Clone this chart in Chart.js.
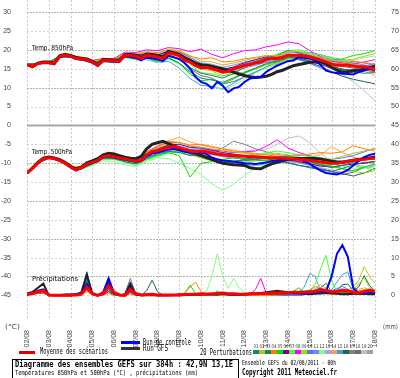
<!DOCTYPE html>
<html>
<head>
<meta charset="utf-8">
<script src="https://cdn.jsdelivr.net/npm/chart.js@4.4.0/dist/chart.umd.min.js"></script>
<style>
html, body { margin: 0; padding: 0; background: #fff; }
</style>
</head>
<body>
<canvas id="gefs" width="400" height="378"></canvas>
<script>
// Echeances : 00h le 02/08 -> 384h, tous les 6h (runs principaux) ou 12h (perturbations)
const dayLabels = ['02/08','03/08','04/08','05/08','06/08','07/08','08/08','09/08','10/08',
                   '11/08','12/08','13/08','14/08','15/08','16/08','17/08','18/08'];
const leftTicks = [-45,-40,-35,-30,-25,-20,-15,-10,-5,0,5,10,15,20,25,30];
const rightTicks = [0,5,10,15,20,25,30,35,40,45,50,55,60,65,70,75];

// Temperature 850hPa, pas de 6h
const t850Mean = [16.1,15.5,16.4,16.6,16.6,16.3,18.2,18.6,18.3,17.8,17.6,17.4,16.8,15.9,17.3,17.2,17.1,17.0,18.6,18.6,18.3,17.7,18.6,18.4,18.1,17.7,19.2,18.9,18.5,17.2,16.8,15.8,15.2,15.4,15.0,14.6,14.1,14.3,15.0,15.4,15.9,16.1,16.6,16.8,17.5,17.7,17.7,18.0,18.6,18.6,18.6,18.4,18.1,17.7,17.3,16.8,16.3,15.9,15.9,15.9,15.7,15.5,15.5,15.2,15.0];
const t850Ctrl = [16.1,15.5,16.3,16.6,16.5,16.2,18.0,18.4,18.2,17.6,17.4,17.2,16.6,15.7,17.0,17.0,16.9,16.8,18.4,18.2,17.9,17.2,18.0,17.8,17.5,17.0,18.4,18.0,17.6,16.5,15.0,12.8,11.5,11.0,9.8,11.5,10.5,8.8,9.8,10.2,11.5,12.4,12.6,12.8,14.2,15.0,15.8,16.4,17.0,17.2,18.1,17.9,17.7,17.2,16.0,14.5,14.1,13.9,13.7,13.6,13.5,14.1,14.5,15.0,15.2];
const t850Gfs = [16.1,15.6,16.5,16.8,16.8,16.5,18.4,18.8,18.5,18.0,17.8,17.6,17.0,16.1,17.5,17.4,17.3,17.2,18.8,18.8,18.6,18.0,18.9,18.8,18.5,18.1,19.6,19.2,18.8,17.8,17.2,16.4,16.0,15.9,15.6,15.3,15.0,14.5,14.1,13.6,13.2,12.9,12.7,12.8,13.0,13.5,14.2,14.6,15.2,15.8,16.1,16.4,16.7,16.8,16.8,16.3,15.4,14.6,14.1,14.2,14.5,14.6,14.9,15.3,15.7];

// Temperature 500hPa, pas de 6h
const t500Mean = [-12.6,-11.4,-10.0,-8.9,-8.6,-8.8,-9.3,-10.0,-11.0,-11.8,-11.2,-10.2,-9.8,-9.3,-8.3,-8.0,-8.3,-8.6,-8.9,-9.2,-9.4,-9.3,-7.8,-6.9,-6.7,-6.2,-5.8,-5.6,-5.9,-6.4,-6.8,-7.0,-6.8,-7.0,-7.3,-7.6,-7.8,-8.0,-8.0,-8.1,-8.2,-8.3,-8.3,-8.4,-8.5,-8.6,-8.6,-8.7,-8.8,-8.9,-9.0,-9.1,-9.3,-9.5,-9.7,-9.9,-10.0,-10.0,-9.8,-9.5,-9.3,-9.1,-9.0,-8.8,-8.7];
const t500Ctrl = [-12.6,-11.4,-10.0,-8.9,-8.6,-8.8,-9.4,-10.1,-11.1,-11.9,-11.4,-10.4,-10.0,-9.5,-8.5,-8.2,-8.5,-8.8,-9.1,-9.4,-9.6,-9.5,-8.2,-7.4,-7.2,-6.8,-6.4,-6.2,-6.6,-7.0,-7.2,-7.4,-7.2,-7.6,-8.5,-9.0,-9.3,-9.4,-9.6,-9.8,-10.0,-10.1,-10.2,-10.0,-9.8,-9.5,-9.3,-9.1,-9.0,-8.9,-8.8,-9.5,-10.2,-11.1,-12.0,-12.6,-12.8,-13.0,-12.5,-11.8,-10.6,-9.4,-8.4,-7.8,-7.5];
const t500Gfs = [-12.6,-11.3,-9.8,-8.7,-8.4,-8.6,-9.1,-9.8,-10.8,-11.6,-11.0,-9.9,-9.4,-8.8,-7.8,-7.4,-7.6,-8.0,-8.4,-8.7,-8.8,-8.2,-6.2,-5.0,-4.6,-4.2,-4.8,-5.4,-6.0,-6.6,-7.0,-7.4,-7.9,-8.5,-9.0,-9.6,-10.0,-10.2,-10.4,-10.5,-10.6,-11.2,-11.4,-11.5,-10.8,-10.2,-9.8,-9.4,-9.0,-8.9,-8.8,-8.8,-8.8,-8.8,-8.9,-9.2,-9.5,-9.7,-9.7,-9.5,-9.2,-9.0,-8.8,-8.6,-8.4];

// Precipitations (mm), pas de 6h
const rrMean = [0.2,0.5,0.9,1.3,0.1,0.0,0.0,0.0,0.0,0.1,0.3,2.2,0.5,0.0,0.5,2.5,0.8,0.1,0.0,1.6,0.5,0.1,0.2,0.3,0.1,0.1,0.1,0.1,0.1,0.2,0.3,0.3,0.4,0.3,0.4,0.5,0.6,0.4,0.4,0.3,0.3,0.4,0.4,0.5,0.5,0.6,0.6,0.7,0.7,0.8,0.8,0.9,0.9,1.0,1.5,1.3,0.9,1.1,1.3,1.2,0.8,0.6,1.0,1.4,1.0];
const rrCtrl = [0.3,0.6,1.2,1.6,0.1,0,0,0,0,0.2,0.6,3.0,0.4,0,0.8,4.5,0.6,0,0.1,2.0,0.3,0,0.1,0.2,0,0,0,0.1,0.2,0.2,0.1,0.2,0.3,0.4,0.3,0.2,0.4,0.3,0.2,0.2,0.3,0.4,0.4,0.5,0.4,0.5,0.6,0.5,0.6,0.5,0.6,0.6,0.5,0.8,1.0,1.2,4.9,11.0,13.3,10.2,2.0,0.5,0.6,0.8,0.6];
const rrGfs = [0.5,0.9,2.0,3.1,0,0,0,0,0,0.2,0.8,5.5,0.5,0,0.6,3.2,0.5,0,0.1,3.0,0.3,0,0,0.1,0,0,0,0,0,0.1,0.1,0.2,0.2,0.2,0.3,0.3,0.4,0.3,0.3,0.2,0.3,0.4,0.5,0.6,0.8,1.0,1.2,1.0,0.8,0.6,0.5,0.4,0.3,0.4,0.5,0.6,0.5,0.4,0.3,0.3,0.4,0.5,0.4,0.3,0.3];

// 20 perturbations, 850hPa, pas de 12h
const t850_p01 = [16.1,16.5,16.7,18.3,18.6,17.8,16.6,17.0,16.8,18.2,17.6,17.8,16.9,17.8,16.5,14.2,12.5,12.0,11.4,12.6,14.0,15.2,16.4,17.0,18.0,17.6,17.0,16.5,15.4,15.0,14.2,13.8,14.0];
const t850_p02 = [16.1,16.3,16.5,18.1,18.2,17.5,16.9,17.5,17.4,19.0,18.9,19.3,19.0,20.2,19.8,18.5,17.0,16.8,16.0,16.5,17.2,17.8,18.4,18.5,19.5,19.6,18.8,18.0,17.3,17.2,17.5,18.3,19.0];
const t850_p03 = [16.1,16.4,16.6,18.0,18.1,17.4,16.5,17.1,16.6,18.0,17.9,18.0,17.2,18.6,17.5,15.3,13.8,13.2,12.5,13.8,15.3,16.8,17.9,18.6,19.8,19.2,18.5,17.2,16.0,14.6,13.9,14.5,15.8];
const t850_p04 = [16.1,16.4,16.7,18.4,18.5,17.9,17.1,17.6,17.5,19.2,19.0,19.5,19.3,20.0,19.6,18.3,17.6,17.9,16.8,17.0,17.6,18.0,18.5,18.2,18.8,18.4,17.6,16.8,16.1,16.5,17.0,16.6,16.2];
const t850_p05 = [16.1,16.4,16.5,18.2,18.3,17.5,16.6,17.2,17.0,18.7,18.2,18.4,17.6,18.0,16.5,13.6,11.8,12.2,11.0,12.3,13.8,15.0,16.2,16.8,18.2,18.8,18.3,17.9,17.2,17.6,18.5,19.0,19.8];
const t850_p06 = [16.1,16.4,16.6,18.3,18.4,17.7,17.0,17.4,17.3,18.9,18.6,19.0,18.6,19.6,19.0,17.5,16.0,15.2,14.6,15.5,16.6,17.4,18.2,18.0,18.4,17.9,17.0,16.2,15.1,14.8,14.6,14.9,14.5];
const t850_p07 = [16.1,16.4,16.6,18.1,18.2,17.4,16.5,17.0,16.9,18.6,18.4,18.9,18.5,19.4,18.6,16.1,14.0,13.6,13.0,14.2,15.5,16.6,17.6,18.9,19.8,20.0,19.2,18.6,18.0,17.1,16.2,15.6,15.2];
const t850_p08 = [16.1,16.5,16.7,18.3,18.5,17.9,17.2,17.7,17.7,19.4,19.3,20.0,19.8,20.6,20.3,19.5,20.2,18.8,17.9,19.0,19.8,20.0,20.8,21.3,22.1,21.6,19.8,18.2,17.0,16.6,16.3,16.8,17.4];
const t850_p09 = [16.1,16.3,16.5,18.1,18.1,17.4,16.6,17.1,16.9,18.3,17.9,18.1,17.6,18.9,18.2,16.4,15.0,14.4,13.2,13.5,14.2,15.0,16.0,16.4,17.5,17.9,17.8,17.5,17.0,16.4,16.0,15.2,14.6];
const t850_p10 = [16.1,16.4,16.6,18.2,18.4,17.7,16.9,17.4,17.2,18.8,18.5,18.8,18.3,19.5,18.9,17.4,15.8,15.9,14.9,15.2,16.3,16.9,17.8,17.4,18.0,17.5,16.4,15.2,13.9,14.2,14.8,15.6,16.4];
const t850_p11 = [16.1,16.4,16.6,18.2,18.3,17.6,16.7,17.2,17.0,18.4,18.0,18.3,17.8,19.0,18.4,17.0,15.5,15.0,13.9,14.4,15.2,15.9,16.8,17.3,18.4,18.9,18.6,18.0,17.4,16.9,16.6,16.0,15.6];
const t850_p12 = [16.1,16.4,16.5,18.1,18.2,17.4,16.4,16.9,16.5,17.9,17.3,17.4,16.6,17.5,16.2,13.9,11.6,10.5,9.4,10.6,12.2,13.8,15.2,16.4,17.6,18.2,17.9,17.4,16.8,16.9,17.2,17.9,18.4];
const t850_p13 = [16.1,16.4,16.6,18.2,18.4,17.8,17.0,17.5,17.4,18.9,18.7,19.1,18.8,19.9,19.2,17.9,16.6,16.2,15.4,16.0,16.8,17.3,18.0,18.3,19.2,19.4,19.0,18.4,17.6,17.0,16.3,15.8,15.4];
const t850_p14 = [16.1,16.4,16.6,18.2,18.3,17.6,16.8,17.3,17.2,18.8,18.6,18.9,18.4,19.4,18.7,17.1,15.4,15.2,14.4,15.0,15.6,16.0,16.8,17.1,18.0,18.2,17.9,17.4,17.1,16.3,15.4,14.3,13.3];
const t850_p15 = [16.1,16.5,16.7,18.3,18.4,17.6,16.6,17.0,16.7,18.1,17.5,17.4,16.6,17.0,15.2,12.4,10.6,10.3,9.6,11.2,12.8,14.2,15.4,16.2,17.2,17.6,17.5,17.0,16.6,16.2,15.6,15.0,14.8];
const t850_p16 = [16.1,16.4,16.6,18.2,18.3,17.7,16.9,17.5,17.3,18.9,18.6,19.0,18.6,19.8,19.4,18.0,16.4,16.0,15.0,15.3,15.8,16.0,16.8,17.0,17.8,17.4,16.6,15.6,14.2,13.0,12.2,11.6,11.0];
const t850_p17 = [16.1,16.4,16.6,18.2,18.3,17.6,16.9,17.4,17.3,18.8,18.4,18.8,18.4,19.5,18.8,17.2,15.6,14.9,14.2,15.2,16.2,17.0,18.0,18.5,19.2,19.4,19.3,18.7,17.9,17.4,17.0,16.5,16.0];
const t850_p18 = [16.1,16.3,16.5,18.1,18.2,17.5,16.7,17.2,17.0,18.5,18.1,18.4,17.9,18.8,17.6,15.0,13.2,12.5,11.0,11.6,12.8,14.0,15.5,16.7,17.8,18.0,17.6,17.0,16.2,15.6,15.2,14.6,14.2];
const t850_p19 = [16.1,16.4,16.6,18.3,18.4,17.7,16.8,17.4,17.2,18.7,18.5,18.9,18.5,19.6,19.0,17.6,16.2,16.1,15.3,16.0,16.6,17.1,17.8,18.0,18.6,18.3,17.8,17.1,15.6,13.5,11.6,9.2,6.5];
const t850_p20 = [16.1,16.4,16.6,18.2,18.3,17.6,16.8,17.3,17.1,18.6,18.2,18.6,18.2,19.3,18.6,17.0,15.3,14.8,14.0,14.9,15.6,16.2,17.1,17.6,18.5,18.9,18.4,17.9,17.2,16.5,16.0,15.2,14.5];

// 20 perturbations, 500hPa, pas de 12h
const t500_p01 = [-12.6,-10.0,-8.7,-9.2,-11.2,-11.5,-10.2,-8.6,-8.8,-9.6,-10.2,-8.8,-7.5,-6.9,-7.2,-8.0,-7.8,-8.5,-9.2,-9.6,-9.4,-9.0,-8.6,-8.4,-8.2,-8.8,-9.6,-10.4,-11.2,-10.6,-9.8,-9.2,-8.5];
const t500_p02 = [-12.6,-10.0,-8.5,-9.4,-10.8,-11.0,-9.6,-8.0,-8.0,-8.4,-8.8,-7.2,-6.0,-4.8,-4.6,-5.5,-5.8,-6.2,-6.6,-7.0,-7.4,-7.8,-7.6,-7.4,-7.8,-8.4,-8.8,-8.6,-9.0,-8.2,-7.4,-6.8,-6.2];
const t500_p03 = [-12.6,-10.1,-8.6,-9.2,-11.0,-11.4,-10.0,-8.6,-8.5,-9.2,-9.8,-8.3,-6.8,-5.5,-6.0,-7.5,-8.4,-9.2,-9.8,-9.6,-9.0,-8.5,-8.8,-9.4,-10.0,-10.6,-11.2,-11.8,-12.2,-11.4,-10.4,-9.8,-9.6];
const t500_p04 = [-12.6,-9.9,-8.5,-9.3,-10.9,-11.0,-9.5,-8.0,-7.9,-8.5,-9.0,-7.0,-5.8,-4.2,-4.5,-5.2,-5.0,-5.6,-6.2,-6.8,-7.2,-7.6,-7.8,-8.2,-8.4,-8.0,-7.6,-7.2,-7.4,-7.0,-5.4,-6.2,-6.8];
const t500_p05 = [-12.6,-10.0,-8.6,-9.4,-11.1,-11.3,-9.9,-8.5,-8.6,-9.3,-9.8,-8.6,-7.8,-7.2,-8.0,-13.7,-10.0,-9.6,-9.0,-8.6,-8.8,-9.2,-9.4,-9.0,-8.8,-9.2,-9.8,-10.4,-10.8,-11.4,-12.0,-11.0,-10.2];
const t500_p06 = [-12.6,-10.0,-8.6,-9.3,-11.0,-11.2,-9.8,-8.2,-8.1,-8.6,-9.0,-7.4,-6.2,-5.2,-5.0,-5.8,-6.0,-6.6,-7.2,-7.6,-8.0,-8.2,-8.4,-8.6,-9.0,-9.6,-10.2,-10.8,-11.0,-10.6,-10.2,-10.0,-9.6];
const t500_p07 = [-12.6,-10.0,-8.7,-9.4,-11.2,-11.6,-10.4,-9.0,-9.0,-9.8,-10.6,-9.2,-8.2,-7.4,-7.0,-7.4,-7.0,-7.6,-8.0,-8.2,-8.0,-7.8,-7.2,-6.8,-7.2,-7.8,-8.2,-8.6,-9.2,-9.8,-10.6,-11.2,-11.8];
const t500_p08 = [-12.6,-10.0,-8.6,-9.3,-11.0,-11.0,-9.6,-8.1,-8.0,-8.6,-8.8,-7.0,-5.6,-4.4,-4.6,-5.4,-5.8,-6.4,-6.8,-7.2,-7.0,-6.8,-5.6,-3.8,-6.0,-7.2,-8.0,-8.8,-9.6,-10.2,-10.4,-10.0,-9.6];
const t500_p09 = [-12.6,-10.0,-8.6,-9.2,-11.0,-11.2,-9.8,-8.4,-8.4,-9.0,-9.6,-8.2,-7.2,-6.4,-6.8,-7.8,-8.6,-9.4,-10.0,-10.2,-9.8,-9.4,-9.0,-8.8,-8.6,-9.0,-9.6,-10.2,-10.8,-11.6,-12.2,-12.6,-12.0];
const t500_p10 = [-12.6,-10.0,-8.6,-9.3,-11.0,-11.2,-9.7,-8.2,-8.2,-8.8,-9.2,-7.6,-6.4,-5.4,-5.6,-6.4,-6.6,-7.2,-7.8,-8.4,-8.8,-9.0,-8.8,-8.4,-8.0,-7.8,-8.2,-8.8,-9.0,-8.6,-8.0,-7.0,-6.0];
const t500_p11 = [-12.6,-10.0,-8.7,-9.3,-11.1,-11.4,-10.0,-8.5,-8.5,-9.2,-9.6,-8.0,-6.9,-5.9,-6.0,-6.9,-7.2,-7.6,-8.2,-8.6,-9.0,-9.2,-9.4,-9.4,-9.2,-9.0,-9.4,-9.8,-10.0,-9.6,-9.2,-8.8,-8.6];
const t500_p12 = [-12.6,-10.0,-8.6,-9.4,-11.2,-11.6,-10.6,-9.4,-9.6,-10.4,-11.0,-9.6,-8.6,-8.8,-10.0,-11.4,-13.0,-15.4,-17.2,-15.6,-13.2,-11.4,-10.2,-9.6,-9.0,-8.8,-9.2,-9.8,-10.2,-10.8,-11.4,-11.0,-10.6];
const t500_p13 = [-12.6,-10.0,-8.6,-9.3,-10.9,-11.0,-9.6,-8.0,-7.9,-8.5,-9.0,-7.6,-6.6,-5.6,-5.4,-6.0,-6.2,-6.8,-7.4,-7.8,-8.0,-8.4,-8.8,-9.2,-9.6,-10.0,-10.6,-11.2,-11.8,-12.4,-12.0,-11.2,-10.8];
const t500_p14 = [-12.6,-10.0,-8.5,-9.2,-10.8,-11.0,-9.6,-8.0,-8.0,-8.6,-8.8,-7.0,-5.4,-4.0,-3.2,-4.4,-5.2,-5.8,-6.2,-6.6,-7.0,-7.4,-7.6,-7.8,-8.2,-8.6,-8.4,-7.8,-5.6,-7.2,-8.4,-9.0,-8.8];
const t500_p15 = [-12.6,-10.0,-8.6,-9.3,-11.0,-11.4,-10.2,-8.8,-8.8,-9.6,-10.2,-9.0,-8.0,-7.0,-6.8,-7.6,-8.2,-9.0,-9.6,-10.0,-10.4,-10.6,-10.2,-9.8,-9.4,-9.6,-10.2,-10.6,-10.4,-10.0,-9.4,-8.8,-8.0];
const t500_p16 = [-12.6,-10.0,-8.6,-9.3,-11.0,-11.2,-9.8,-8.3,-8.3,-8.9,-9.4,-7.8,-6.7,-5.8,-5.9,-6.8,-7.0,-7.4,-7.8,-8.0,-8.2,-8.4,-8.8,-9.2,-9.8,-10.6,-11.0,-11.6,-12.2,-12.8,-13.4,-12.6,-11.4];
const t500_p17 = [-12.6,-10.0,-8.6,-9.3,-11.0,-11.2,-9.8,-8.3,-8.2,-8.8,-9.2,-7.6,-6.4,-5.4,-5.6,-6.4,-6.6,-7.0,-6.0,-4.2,-5.0,-6.2,-7.0,-7.6,-8.4,-9.0,-9.4,-9.8,-10.2,-9.8,-9.4,-8.8,-8.2];
const t500_p18 = [-12.6,-10.0,-8.6,-9.3,-11.1,-11.3,-10.0,-8.6,-8.6,-9.2,-9.8,-8.4,-7.4,-6.6,-7.0,-7.8,-8.0,-8.6,-9.2,-9.4,-9.2,-8.8,-8.6,-8.8,-9.2,-9.8,-10.6,-11.4,-12.2,-13.0,-12.4,-11.2,-10.4];
const t500_p19 = [-12.6,-10.0,-8.6,-9.3,-11.0,-11.1,-9.7,-8.2,-8.2,-8.7,-9.1,-7.6,-6.5,-5.6,-5.8,-6.6,-6.8,-7.2,-7.4,-7.2,-6.8,-6.6,-6.4,-5.0,-3.4,-2.8,-4.6,-7.4,-9.6,-10.0,-10.4,-10.8,-11.4];
const t500_p20 = [-12.6,-10.0,-8.6,-9.3,-11.0,-11.2,-9.9,-8.4,-8.4,-9.0,-9.5,-8.0,-6.9,-6.0,-6.2,-7.0,-7.3,-7.8,-8.3,-8.6,-8.8,-9.0,-9.2,-9.3,-9.4,-9.6,-9.8,-10.0,-10.2,-10.0,-9.6,-9.2,-8.8];

// 20 perturbations, precipitations : couples [echeance h, mm]
const rr_p01 = [[0,0.2],[6,0.4],[12,0.8],[18,1.0],[24,0],[60,0.3],[66,4.5],[72,0.4],[78,0],[84,0.3],[90,1.5],[96,0.2],[102,0],[108,0.1],[114,1.0],[120,0.1],[126,0],[186,0],[198,0.3],[288,0.3],[300,0.6],[312,1.4],[324,0.8],[336,0.5],[348,1.6],[360,0.6],[372,0.8],[384,0.4]];
const rr_p02 = [[0,0.2],[6,0.3],[12,0.6],[18,0.9],[24,0],[60,0.2],[66,2.0],[72,0.3],[78,0],[84,0.4],[90,3.0],[96,0.4],[102,0],[108,0.3],[114,1.5],[120,0.2],[126,0],[216,0],[228,0.3],[300,0.4],[324,0.6],[342,0.8],[354,1.5],[360,2.2],[366,4.0],[372,7.6],[378,5.0],[384,3.2]];
const rr_p03 = [[0,0.1],[6,0.3],[12,0.7],[18,0.8],[24,0],[60,0.5],[66,3.8],[72,0.6],[78,0],[84,0.2],[90,2.2],[96,0.3],[102,0],[108,0.4],[114,2.0],[120,0.3],[126,0],[240,0],[252,0.3],[276,0.6],[288,0.4],[312,0.9],[324,2.0],[330,3.2],[336,1.0],[348,0.6],[360,1.2],[372,0.5],[384,0.8]];
const rr_p04 = [[0,0.2],[6,0.4],[12,0.6],[18,0.7],[24,0],[60,0.1],[66,1.2],[72,0.1],[78,0],[84,0.1],[90,0.5],[96,0],[108,0],[114,0.3],[120,0],[168,0],[174,0.6],[180,2.2],[186,3.5],[192,1.0],[198,0.2],[204,0],[276,0],[288,0.4],[300,0.8],[312,1.2],[318,2.4],[324,1.6],[336,0.5],[360,0.8],[372,1.5],[384,0.6]];
const rr_p05 = [[0,0.3],[6,0.5],[12,1.0],[18,1.1],[24,0],[60,0.4],[66,4.0],[72,0.5],[78,0],[84,0.6],[90,4.2],[96,0.5],[102,0],[108,0.2],[114,1.2],[120,0.1],[126,0],[168,0],[174,0.5],[180,2.7],[186,0.5],[192,0],[204,0],[210,1.2],[216,0.2],[288,0.2],[300,2.0],[306,0.8],[318,0.6],[336,0.8],[348,0.5],[360,0.9],[384,0.5]];
const rr_p06 = [[0,0.1],[6,0.3],[12,0.5],[18,0.6],[24,0],[60,0.2],[66,1.5],[72,0.2],[78,0],[84,0.1],[90,1.0],[96,0.1],[102,0],[108,0.1],[114,0.8],[120,0],[240,0],[252,0.3],[264,0.6],[276,0.9],[288,0.5],[312,0.4],[336,0.7],[360,0.4],[384,0.3]];
const rr_p07 = [[0,0.2],[6,0.4],[12,0.8],[18,0.9],[24,0],[60,0.3],[66,2.5],[72,0.3],[78,0],[84,0.5],[90,3.5],[96,0.4],[102,0],[108,0.3],[114,2.5],[120,0.2],[126,0],[264,0],[276,0.4],[288,0.3],[300,0.6],[312,1.2],[318,3.0],[324,7.0],[330,10.6],[336,4.0],[342,1.0],[354,0.5],[384,0.4]];
const rr_p08 = [[0,0.2],[6,0.4],[12,0.7],[18,0.8],[24,0],[60,0.2],[66,1.8],[72,0.3],[78,0],[84,0.3],[90,2.0],[96,0.2],[102,0],[108,0.2],[114,1.0],[120,0],[240,0],[246,0.2],[252,1.5],[258,4.5],[264,0.5],[270,0],[300,0.3],[324,0.6],[348,0.4],[384,0.3]];
const rr_p09 = [[0,0.2],[6,0.4],[12,0.9],[18,1.0],[24,0],[60,0.3],[66,3.0],[72,0.4],[78,0],[84,0.4],[90,2.6],[96,0.3],[102,0],[108,0.3],[114,1.8],[120,0.2],[126,0],[276,0],[288,0.3],[300,1.0],[312,0.6],[336,0.9],[348,0.5],[360,1.5],[366,3.0],[372,4.6],[378,2.0],[384,1.2]];
const rr_p10 = [[0,0.3],[6,0.6],[12,1.1],[18,1.3],[24,0],[60,0.6],[66,6.2],[72,0.6],[78,0],[84,0.6],[90,3.8],[96,0.4],[102,0],[108,0.2],[114,1.4],[120,0.2],[126,0],[288,0],[300,0.5],[312,1.0],[324,1.8],[336,1.2],[348,2.4],[360,0.8],[372,0.6],[384,0.9]];
const rr_p11 = [[0,0.2],[6,0.3],[12,0.6],[18,0.7],[24,0],[60,0.2],[66,2.2],[72,0.2],[78,0],[84,0.2],[90,1.8],[96,0.2],[102,0],[108,0.4],[114,3.0],[120,0.3],[126,0],[300,0],[312,0.6],[324,1.2],[336,0.8],[348,1.0],[360,0.5],[384,0.5]];
const rr_p12 = [[0,0.2],[6,0.4],[12,0.8],[18,0.9],[24,0],[60,0.3],[66,3.5],[72,0.4],[78,0],[84,0.3],[90,2.4],[96,0.2],[102,0],[108,0.1],[114,0.8],[120,0],[186,0],[192,0.5],[198,1.0],[204,5.0],[210,11.0],[216,5.0],[222,1.8],[228,4.5],[234,2.0],[240,0.8],[246,0.3],[252,0],[276,0],[288,0.3],[300,0.5],[312,0.8],[324,0.5],[348,0.6],[372,0.4],[384,0.3]];
const rr_p13 = [[0,0.2],[6,0.5],[12,1.0],[18,1.1],[24,0],[60,0.5],[66,5.0],[72,0.5],[78,0],[84,0.2],[90,1.2],[96,0.1],[102,0],[108,0.2],[114,1.6],[120,0.1],[126,0],[288,0],[300,0.4],[312,0.9],[324,1.4],[336,0.9],[348,1.8],[360,1.0],[372,0.6],[384,0.5]];
const rr_p14 = [[0,0.1],[6,0.3],[12,0.6],[18,0.7],[24,0],[60,0.1],[66,1.0],[72,0.1],[78,0],[84,0.4],[90,3.0],[96,0.3],[102,0],[108,0.1],[114,0.6],[120,0],[288,0],[300,0.3],[312,0.8],[324,2.8],[336,1.0],[348,0.6],[360,1.2],[372,2.0],[384,1.0]];
const rr_p15 = [[0,0.2],[6,0.4],[12,0.8],[18,0.9],[24,0],[60,0.3],[66,2.8],[72,0.3],[78,0],[84,0.2],[90,1.6],[96,0.2],[102,0],[108,0.3],[114,2.2],[120,0.2],[126,0],[288,0],[294,0.4],[300,0.8],[306,2.2],[312,5.8],[318,5.0],[324,1.0],[330,0.6],[336,1.5],[342,3.5],[348,5.5],[354,6.2],[360,1.5],[366,0.5],[384,0.4]];
const rr_p16 = [[0,0.3],[6,0.6],[12,1.0],[18,1.2],[24,0],[60,0.6],[66,5.8],[72,0.6],[78,0],[84,0.3],[90,2.0],[96,0.2],[102,0],[108,0.4],[114,3.5],[120,0.3],[126,0],[132,1.2],[138,4.0],[144,1.0],[150,0],[300,0],[312,0.5],[324,0.9],[336,0.6],[342,1.2],[348,2.8],[354,3.0],[360,1.2],[366,2.2],[372,5.2],[378,2.6],[384,1.2]];
const rr_p17 = [[0,0.2],[6,0.5],[12,0.9],[18,1.0],[24,0],[60,0.4],[66,4.2],[72,0.4],[78,0],[84,0.3],[90,2.8],[96,0.3],[102,0],[108,0.5],[114,4.5],[120,0.4],[126,0],[300,0],[312,0.4],[324,0.8],[336,0.5],[348,1.0],[360,0.6],[384,0.4]];
const rr_p18 = [[0,0.2],[6,0.3],[12,0.7],[18,0.8],[24,0],[60,0.3],[66,2.6],[72,0.3],[78,0],[84,0.2],[90,1.4],[96,0.1],[102,0],[108,0.3],[114,2.8],[120,0.2],[126,0],[300,0],[312,0.6],[324,1.0],[336,0.4],[348,0.8],[360,0.5],[384,0.6]];
const rr_p19 = [[0,0.1],[6,0.3],[12,0.6],[18,0.8],[24,0],[60,0.3],[66,3.3],[72,0.3],[78,0],[84,0.3],[90,2.2],[96,0.2],[102,0],[108,0.4],[114,3.8],[120,0.3],[126,0],[300,0],[312,0.5],[324,0.7],[336,0.4],[348,0.6],[360,0.4],[384,0.3]];
const rr_p20 = [[0,0.2],[6,0.4],[12,0.8],[18,0.9],[24,0],[60,0.4],[66,4.8],[72,0.5],[78,0],[84,0.2],[90,1.0],[96,0.1],[102,0],[108,0.3],[114,2.0],[120,0.2],[126,0],[300,0],[312,0.4],[324,0.6],[336,0.9],[348,0.5],[360,0.7],[384,0.5]];

const pertColors = ['#009070','#c0c020','#208060','#ff8000','#00e000','#800080','#40ff40','#ff00ff','#a0e000','#4080ff',
                    '#8080ff','#80ff80','#a0a0ff','#ffa040','#40a0e0','#206060','#808080','#806080','#c0c0c0','#a0a0a0'];
const t850Pert = [t850_p01,t850_p02,t850_p03,t850_p04,t850_p05,t850_p06,t850_p07,t850_p08,t850_p09,t850_p10,
                  t850_p11,t850_p12,t850_p13,t850_p14,t850_p15,t850_p16,t850_p17,t850_p18,t850_p19,t850_p20];
const t500Pert = [t500_p01,t500_p02,t500_p03,t500_p04,t500_p05,t500_p06,t500_p07,t500_p08,t500_p09,t500_p10,
                  t500_p11,t500_p12,t500_p13,t500_p14,t500_p15,t500_p16,t500_p17,t500_p18,t500_p19,t500_p20];
const rrPert = [rr_p01,rr_p02,rr_p03,rr_p04,rr_p05,rr_p06,rr_p07,rr_p08,rr_p09,rr_p10,
                rr_p11,rr_p12,rr_p13,rr_p14,rr_p15,rr_p16,rr_p17,rr_p18,rr_p19,rr_p20];

const serie = (arr, step) => arr.map((v, i) => ({x: i * step, y: v}));
const couples = arr => arr.map(p => ({x: p[0], y: p[1]}));

function ligne(data, color, width, axis) {
    return {data: data, borderColor: color, borderWidth: width, yAxisID: axis,
            pointRadius: 0, fill: false, tension: 0};
}

// le premier dataset est dessine au-dessus
const datasets = [];
datasets.push(ligne(serie(t850Mean, 6), '#ff0000', 3, 'y'));
datasets.push(ligne(serie(t500Mean, 6), '#ff0000', 3, 'y'));
datasets.push(ligne(serie(rrMean, 6), '#ff0000', 3, 'y2'));
datasets.push(ligne(serie(t850Ctrl, 6), '#0000ff', 2, 'y'));
datasets.push(ligne(serie(t500Ctrl, 6), '#0000ff', 2, 'y'));
datasets.push(ligne(serie(rrCtrl, 6), '#0000ff', 2, 'y2'));
datasets.push(ligne(serie(t850Gfs, 6), '#222222', 3, 'y'));
datasets.push(ligne(serie(t500Gfs, 6), '#222222', 3, 'y'));
datasets.push(ligne(serie(rrGfs, 6), '#222222', 2, 'y2'));
for (let i = 0; i < 20; i++) {
    datasets.push(ligne(serie(t850Pert[i], 12), pertColors[i], 1, 'y'));
    datasets.push(ligne(serie(t500Pert[i], 12), pertColors[i], 1, 'y'));
    datasets.push(ligne(couples(rrPert[i]), pertColors[i], 1, 'y2'));
}

// Grille : lignes verticales par jour, horizontales tous les 5 degres
const grillePlugin = {
    id: 'grille',
    beforeDatasetsDraw(chart) {
        const {ctx, chartArea: a, scales: {x, y}} = chart;
        ctx.save();
        ctx.lineWidth = 1;
        ctx.strokeStyle = '#cccccc';
        ctx.setLineDash([2, 2]);
        dayLabels.forEach((d, i) => {
            const px = Math.round(x.getPixelForValue(i * 24)) + 0.5;
            ctx.beginPath(); ctx.moveTo(px, a.top); ctx.lineTo(px, a.bottom); ctx.stroke();
        });
        leftTicks.forEach(v => {
            const py = Math.round(y.getPixelForValue(v)) + 0.5;
            if (v === 0) {
                ctx.setLineDash([]); ctx.strokeStyle = '#a8a8a8'; ctx.lineWidth = 2;
            } else if (v % 10 === 0) {
                ctx.setLineDash([2, 1]); ctx.strokeStyle = '#b4b4b4'; ctx.lineWidth = 1;
            } else {
                ctx.setLineDash([2, 2]); ctx.strokeStyle = '#d4d4d4'; ctx.lineWidth = 1;
            }
            ctx.beginPath(); ctx.moveTo(a.left, py); ctx.lineTo(a.right, py); ctx.stroke();
        });
        ctx.restore();
    }
};

function texte(ctx, s, x, y, w, font, color) {
    ctx.font = font;
    ctx.fillStyle = color;
    const m = ctx.measureText(s).width;
    ctx.save();
    ctx.translate(x, y);
    ctx.scale(w / m, 1);
    ctx.fillText(s, 0, 0);
    ctx.restore();
}

const textePlugin = {
    id: 'textes',
    afterDraw(chart) {
        const ctx = chart.ctx;
        ctx.save();
        ctx.textBaseline = 'middle';
        ctx.textAlign = 'left';
        const f = '7px "DejaVu Sans"';
        texte(ctx, 'Temp. 850hPa', 32, 48, 41, f, '#000');
        texte(ctx, 'Temp. 500hPa', 32, 152, 40, f, '#000');
        texte(ctx, 'Précipitations', 32, 279, 46, f, '#000');
        texte(ctx, '(°C)', 5, 327, 15, f, '#444');
        texte(ctx, '(mm)', 383, 327, 15, f, '#444');

        // legende
        ctx.lineWidth = 3;
        ctx.strokeStyle = '#e00000';
        ctx.beginPath(); ctx.moveTo(19, 352.5); ctx.lineTo(35, 352.5); ctx.stroke();
        ctx.strokeStyle = '#0000ff';
        ctx.beginPath(); ctx.moveTo(121, 342.5); ctx.lineTo(140, 342.5); ctx.stroke();
        ctx.strokeStyle = '#333333';
        ctx.beginPath(); ctx.moveTo(121, 348.5); ctx.lineTo(140, 348.5); ctx.stroke();
        const fm = '8px "DejaVu Sans Mono"';
        texte(ctx, 'Moyenne des scénarios', 40, 352, 68, fm, '#000');
        texte(ctx, 'Run de controle', 143, 343, 48, fm, '#000');
        texte(ctx, 'Run GFS', 143, 349, 25, fm, '#000');
        texte(ctx, '20 Perturbations', 200, 353, 52, fm, '#000');
        for (let i = 0; i < 20; i++) {
            const sx = 253 + i * 6;
            ctx.fillStyle = pertColors[i];
            ctx.fillRect(sx, 350, 6, 4);
            const lab = (i + 1 < 10 ? '0' : '') + (i + 1);
            texte(ctx, lab, sx + 0.5, 346.5, 5, '5px "DejaVu Sans"', '#333');
        }

        // cartouche
        ctx.lineWidth = 1;
        ctx.strokeStyle = '#000';
        ctx.strokeRect(12.5, 359.5, 226, 20);
        texte(ctx, 'Diagramme des ensembles GEFS sur 384h : 42,9N 13,1E', 15, 364.5, 218, 'bold 8px "DejaVu Sans Mono"', '#000');
        texte(ctx, 'Températures 850hPa et 500hPa (°C) , précipitations (mm)', 15, 373, 183, '7px "DejaVu Sans Mono"', '#000');
        texte(ctx, 'Ensemble GEFS du 02/08/2011 - 00h', 242, 363, 94, '7px "DejaVu Sans Mono"', '#000');
        texte(ctx, 'Copyright 2011 Meteociel.fr', 242, 373, 95, 'bold 8px "DejaVu Sans Mono"', '#000');
        ctx.restore();
    }
};

const tickFont = {family: 'Liberation Sans', size: 7};

new Chart(document.getElementById('gefs'), {
    type: 'line',
    data: {datasets: datasets},
    options: {
        responsive: false,
        animation: false,
        devicePixelRatio: 1,
        layout: {padding: 0},
        plugins: {legend: {display: false}, tooltip: {enabled: false}},
        scales: {
            x: {
                type: 'linear', min: 0, max: 384,
                grid: {display: false}, border: {display: false},
                afterBuildTicks: s => { s.ticks = dayLabels.map((d, i) => ({value: i * 24})); },
                ticks: {
                    callback: v => dayLabels[Math.round(v / 24)],
                    autoSkip: false, minRotation: 90, maxRotation: 90,
                    padding: 4, font: tickFont, color: '#444'
                },
                afterFit: s => { s.height = 60; s.paddingLeft = 0; s.paddingRight = 0; }
            },
            y: {
                position: 'left', min: -51, max: 33.2,
                grid: {display: false}, border: {display: false},
                afterBuildTicks: s => { s.ticks = leftTicks.map(v => ({value: v})); },
                ticks: {padding: 8, font: tickFont, color: '#444'},
                afterFit: s => { s.width = 27; s.paddingTop = 0; s.paddingBottom = 0; }
            },
            y2: {
                position: 'right', min: -6, max: 78.2,
                grid: {display: false}, border: {display: false},
                afterBuildTicks: s => { s.ticks = rightTicks.map(v => ({value: v})); },
                ticks: {padding: 8, font: tickFont, color: '#444'},
                afterFit: s => { s.width = 25; s.paddingTop = 0; s.paddingBottom = 0; }
            }
        }
    },
    plugins: [grillePlugin, textePlugin]
});
</script>
</body>
</html>
